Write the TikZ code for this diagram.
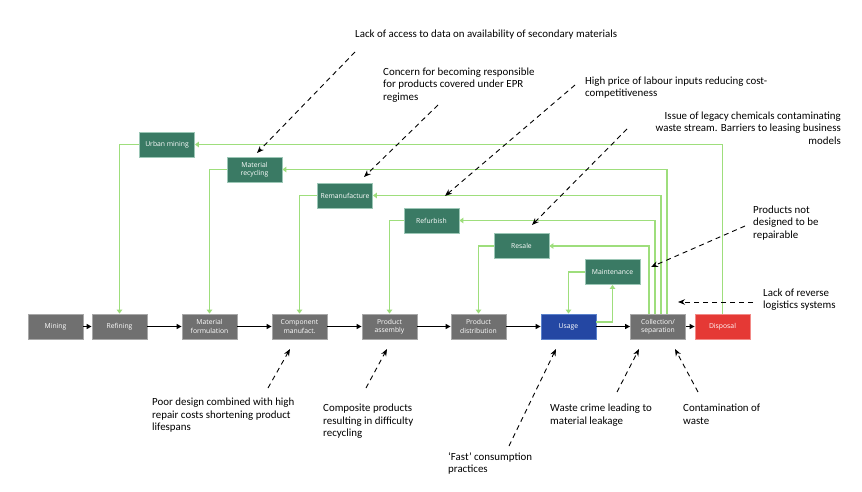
\documentclass[tikz,border=0pt]{standalone}
\usepackage{fontspec}
\setmainfont{Carlito}
\newfontfamily\boxfont{Open Sans}
\usetikzlibrary{arrows.meta}
\definecolor{boxgray}{HTML}{707070}
\definecolor{boxgrayline}{HTML}{A8A8A8}
\definecolor{boxgreen}{HTML}{3A7A64}
\definecolor{boxgreenline}{HTML}{9CC7B6}
\definecolor{boxblue}{HTML}{2447A3}
\definecolor{boxblueline}{HTML}{5B82CC}
\definecolor{boxred}{HTML}{E53935}
\definecolor{boxredline}{HTML}{F28B88}
\definecolor{loopgreen}{HTML}{9EDE7C}
\tikzset{
  basebox/.style={minimum width=55pt, minimum height=25pt, inner sep=0pt, line width=0.8pt,
    align=center, text=white, font=\boxfont\fontsize{6.8}{8.2}\selectfont},
  graybox/.style={basebox, fill=boxgray, draw=boxgrayline},
  greenbox/.style={basebox, fill=boxgreen, draw=boxgreenline},
  bluebox/.style={basebox, fill=boxblue, draw=boxblueline},
  redbox/.style={basebox, fill=boxred, draw=boxredline},
  flow/.style={line width=1.5pt, black, -{Triangle[length=5pt,width=5pt]}},
  loop/.style={line width=1.9pt, loopgreen, -{Triangle[length=4pt,width=5.5pt]}},
  note/.style={line width=0.9pt, black, dash pattern=on 5pt off 4pt, -{Stealth[length=7pt,width=5.5pt]}},
  notetext/.style={inner sep=0pt, font=\fontsize{10.9}{12.6}\selectfont}
}
\begin{document}
\begin{tikzpicture}[x=1pt,y=-1pt]
\useasboundingbox[fill=white] (0,0) rectangle (862,492);

% main chain
\node[graybox] (mining) at (55.5,326.5) {Mining};
\node[graybox] (refining) at (119.5,326.5) {Refining};
\node[graybox] (matform) at (209.5,326.5) {Material\\formulation};
\node[graybox] (compman) at (299.5,326.5) {Component\\manufact.};
\node[graybox] (prodass) at (389.5,326.5) {Product\\assembly};
\node[graybox] (proddist) at (478.5,326.5) {Product\\distribution};
\node[bluebox] (usage) at (568.5,326.5) {Usage};
\node[graybox] (collect) at (658,326.5) {Collection/\\separation};
\node[redbox] (disposal) at (722.5,326.5) {Disposal};

% loops
\node[greenbox] (urban) at (167,144.5) {Urban mining};
\node[greenbox] (matrec) at (254.5,169.5) {Material\\recycling};
\node[greenbox] (reman) at (345,195.5) {Remanufacture};
\node[greenbox] (refurb) at (431.5,220.5) {Refurbish};
\node[greenbox] (resale) at (521.5,246) {Resale};
\node[greenbox] (maint) at (612.5,272) {Maintenance};

% flow arrows
\draw[flow] (mining) -- (refining);
\draw[flow] (refining) -- (matform);
\draw[flow] (matform) -- (compman);
\draw[flow] (compman) -- (prodass);
\draw[flow] (prodass) -- (proddist);
\draw[flow] (proddist) -- (usage);
\draw[flow] (usage) -- (collect);
\draw[flow] (collect) -- (disposal);

% green loop lines
\draw[loop] (urban.west) -| (refining.north);
\draw[loop] (disposal.north) |- (urban.east);
\draw[loop] (matrec.west) -| (matform.north);
\draw[loop] ([xshift=9pt]collect.north) |- (matrec.east);
\draw[loop] (reman.west) -| (compman.north);
\draw[loop] ([xshift=3pt]collect.north) |- (reman.east);
\draw[loop] (refurb.west) -| (prodass.north);
\draw[loop] ([xshift=-3pt]collect.north) |- (refurb.east);
\draw[loop] (resale.west) -| (proddist.north);
\draw[loop] ([xshift=-9pt]collect.north) |- (resale.east);
\draw[loop] (maint.west) -| (usage.north);
\draw[loop] ([yshift=4.5pt]usage.east) -| (maint.south);

% annotation texts
\node[notetext, anchor=north west] (t1) at (355,29.5) {Lack of access to data on availability of secondary materials};
\node[notetext, anchor=north west, align=left] (t2) at (383,67.5) {Concern for becoming responsible\\for products covered under EPR\\regimes};
\node[notetext, anchor=north west, align=left] (t3) at (585,76.5) {High price of labour inputs reducing cost-\\competitiveness};
\node[notetext, anchor=north east, align=right] (t4) at (841,111.5) {Issue of legacy chemicals contaminating\\waste stream. Barriers to leasing business\\models};
\node[notetext, anchor=north west, align=left] (t5) at (753,205.5) {Products not\\designed to be\\repairable};
\node[notetext, anchor=north west, align=left] (t6) at (763,288.5) {Lack of reverse\\logistics systems};
\node[notetext, anchor=north west, align=left] (t7) at (152,398) {Poor design combined with high\\repair costs shortening product\\lifespans};
\node[notetext, anchor=north west, align=left] (t8) at (323,404) {Composite products\\resulting in difficulty\\recycling};
\node[notetext, anchor=north west, align=left] (t9) at (448,452) {‘Fast’ consumption\\practices};
\node[notetext, anchor=north west, align=left] (t10) at (550,404) {Waste crime leading to\\material leakage};
\node[notetext, anchor=north west, align=left] (t11) at (683,404) {Contamination of\\waste};

% annotation arrow endpoints
\coordinate (s1) at (355,52);  \coordinate (e1) at (257,153);
\coordinate (s2) at (438,105); \coordinate (e2) at (364,177);
\coordinate (s3) at (575,85);  \coordinate (e3) at (445,196);
\coordinate (s4) at (627,129); \coordinate (e4) at (532,225);
\coordinate (s5) at (745,226); \coordinate (e5) at (651,267);
\coordinate (s6) at (753,302); \coordinate (e6) at (678,302);
\coordinate (s7) at (268,388); \coordinate (e7) at (290,349);
\coordinate (s8) at (366,388); \coordinate (e8) at (387,349);
\coordinate (s9) at (509,446); \coordinate (e9) at (556,349);
\coordinate (s10) at (617,392); \coordinate (e10) at (639,349);
\coordinate (s11) at (698,392); \coordinate (e11) at (675,349);

\foreach \i in {1,...,11} {\draw[note] (s\i) -- (e\i);}
\end{tikzpicture}
\end{document}
